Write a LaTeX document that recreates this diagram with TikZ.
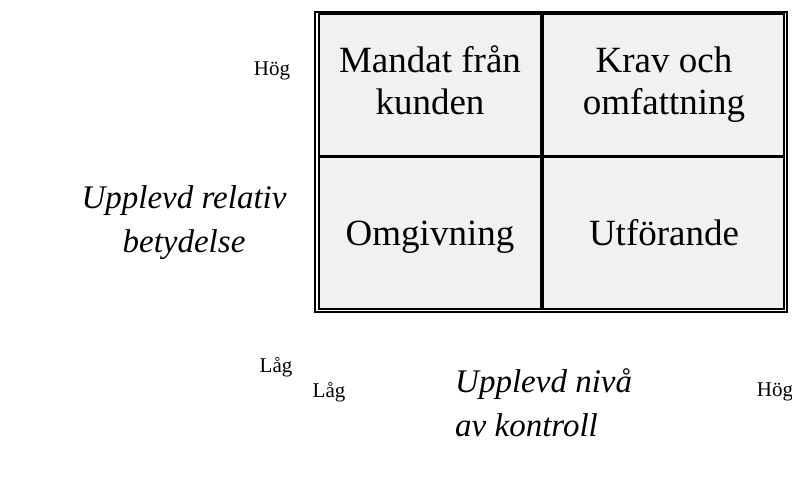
\documentclass[tikz,border=0pt]{standalone}
\usepackage{fontspec}
\setmainfont{Liberation Serif}
\usetikzlibrary{positioning}
\definecolor{CellGray}{RGB}{241,241,241}

\begin{document}
\begin{tikzpicture}[x=1pt,y=-1pt,
  cell/.style={font=\fontsize{37}{42}\selectfont,align=center,inner sep=0pt},
  axislabel/.style={font=\fontsize{33}{44}\selectfont\itshape,inner sep=0pt},
  level/.style={font=\fontsize{21}{24}\selectfont,inner sep=0pt},
]
\useasboundingbox (0,0) rectangle (792,481);
\draw[line width=2pt] (315,12) rectangle (787,312);
\draw[line width=2pt,fill=CellGray] (318.5,14.5) rectangle (783.5,308.5);
\draw[line width=3.5pt] (542,14.5) -- (542,308.5);
\draw[line width=3.5pt] (318.5,156.5) -- (783.5,156.5);
\node[cell] (mandat) at (430,85.6) {Mandat från\strut\\kunden\strut};
\node[cell] (krav) at (664,85.6) {Krav och\strut\\omfattning\strut};
\node[cell] (omgiv) at (430,236.6) {Omgivning\strut};
\node[cell] (utfor) at (664,236.6) {Utförande\strut};
\node[axislabel,align=center] (betydelse) at (184,223) {Upplevd relativ\\betydelse};
\node[axislabel,align=left,anchor=north west] (kontroll) at (455,368) {Upplevd nivå\\av kontroll};
\node[level] (hogy) at (272,71) {Hög};
\node[level] (lagy) at (276,367) {Låg};
\node[level] (lagx) at (329,392) {Låg};
\node[level] (hogx) at (775,392) {Hög};
\end{tikzpicture}
\end{document}
